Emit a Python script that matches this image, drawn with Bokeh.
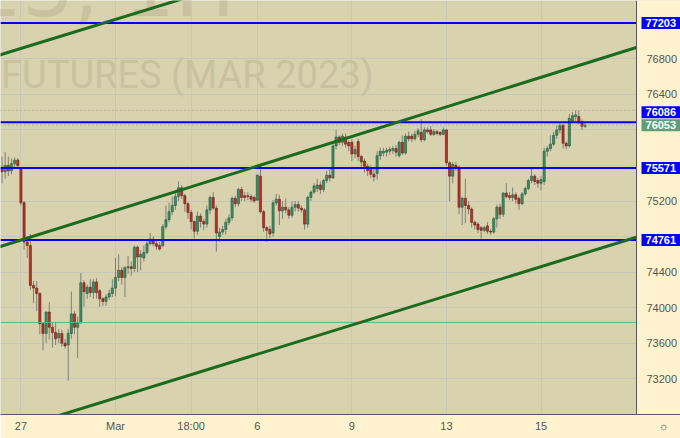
from bokeh.plotting import figure
from bokeh.models import (Range1d, FixedTicker, PrintfTickFormatter, Label, LinearAxis,
                          ColumnDataSource)
from bokeh.core.properties import value
from bokeh.embed import file_html
from bokeh.resources import INLINE

# ---------------- data (SiH2023, 1H) ----------------
opens = [75580, 75530, 75600, 75540, 75620, 75660,
         75560, 75180, 74740, 74700, 74250, 74220, 74160, 73820, 73710, 73950, 73780, 73720, 73660, 73710, 73600,
         73580, 73710, 73930, 73780, 73830, 74280, 74160, 74230, 74170, 74290, 74190, 74100, 74070, 74120, 74160,
         74220, 74340, 74420, 74340, 74450, 74460, 74440, 74680, 74570, 74560, 74620, 74720, 74770, 74720, 74700,
         74700, 74910, 74990, 75080, 75150, 75250, 75350, 75260, 75170, 75070, 74970, 74860, 75030, 74970, 74940,
         75100, 75240, 75120, 74800, 74850, 74880, 74960, 75010, 75230, 75170, 75330, 75260, 75260, 75250, 75240,
         75210, 75480, 75080, 74900, 74880, 74840, 75180, 75220, 75090, 75130, 75100, 75040, 75130, 75160, 75120,
         75100, 74940, 75240, 75300, 75340, 75380, 75330, 75430, 75490, 75460, 75820, 75920, 75860, 75920, 75860,
         75860, 75730, 75870, 75700, 75650, 75590, 75570, 75500, 75510, 75710, 75740, 75750, 75760, 75770, 75790,
         75710, 75860, 75740, 75930, 75930, 75900, 75950, 75970, 75890, 76000, 76000, 75950, 75980, 75970, 75950,
         76000, 75630, 75480, 75600, 75580, 75130, 75230, 75150, 75110, 74960, 74940, 74900, 74870, 74920, 74860,
         74850, 75000, 75130, 75050, 75290, 75260, 75240, 75270, 75230, 75170, 75280, 75340, 75430, 75480, 75430,
         75400, 75420, 75760, 75790, 75840, 75940, 76000, 76050, 75850, 75820, 76100, 76150, 76150, 76090, 76040]
highs = [75700, 75750, 75700, 75680, 75690, 75680,
         75580, 75200, 74800, 74830, 74300, 74300, 74170, 73830, 73960, 74060, 73830, 73830, 73760, 73750, 73650,
         73760, 74180, 73960, 73900, 74390, 74310, 74260, 74320, 74320, 74330, 74210, 74120, 74150, 74200, 74320,
         74560, 74600, 74460, 74470, 74580, 74520, 74700, 74700, 74650, 74700, 74750, 74840, 74800, 74760, 74740,
         74940, 75150, 75180, 75250, 75300, 75420, 75380, 75280, 75190, 75100, 74980, 75080, 75060, 75000, 75150,
         75260, 75300, 75150, 74900, 74920, 75000, 75050, 75250, 75260, 75350, 75360, 75300, 75300, 75280, 75260,
         75500, 75610, 75100, 74920, 74920, 75210, 75280, 75270, 75200, 75230, 75130, 75200, 75200, 75200, 75150,
         75120, 75260, 75320, 75400, 75450, 75420, 75450, 75540, 75560, 75840, 76000, 75940, 75960, 75960, 75880,
         75900, 75820, 75900, 75720, 75680, 75620, 75600, 75560, 75760, 75800, 75800, 75800, 75810, 75820, 75830,
         75880, 75940, 75960, 75980, 75960, 75990, 76020, 76120, 76030, 76030, 76040, 76010, 76000, 75990, 76030,
         76010, 75650, 75640, 75640, 75600, 75250, 75450, 75200, 75130, 74980, 74960, 74920, 74920, 74960, 74880,
         75020, 75160, 75170, 75300, 75400, 75300, 75350, 75300, 75250, 75300, 75360, 75450, 75570, 75500, 75460,
         75480, 75800, 75820, 75940, 75980, 76050, 76090, 76070, 75870, 76180, 76200, 76220, 76220, 76120, 76080]
lows = [75400, 75450, 75480, 75500, 75560, 75560,
        75150, 74650, 74560, 74200, 74050, 73960, 73700, 73520, 73600, 73640, 73550, 73580, 73600, 73560, 73540,
        73180, 73650, 73700, 73430, 73820, 74010, 74100, 74120, 74100, 74100, 74010, 74020, 74020, 74090, 74120,
        74130, 74300, 74260, 74120, 74380, 74360, 74400, 74400, 74420, 74520, 74600, 74700, 74690, 74650, 74640,
        74680, 74880, 74960, 75040, 75100, 75200, 75220, 75080, 75000, 74880, 74780, 74820, 74900, 74870, 74900,
        75050, 75100, 74630, 74740, 74820, 74820, 74930, 74980, 75130, 75140, 75200, 75200, 75210, 75190, 75180,
        75200, 75060, 74850, 74740, 74780, 74800, 75150, 74930, 75000, 75060, 75000, 75010, 75080, 75080, 75070,
        74880, 74900, 75200, 75280, 75300, 75280, 75300, 75400, 75420, 75450, 75780, 75830, 75820, 75800, 75760,
        75650, 75680, 75650, 75560, 75520, 75480, 75460, 75420, 75440, 75660, 75700, 75700, 75720, 75730, 75700,
        75690, 75720, 75720, 75870, 75860, 75880, 75920, 75860, 75870, 75960, 75930, 75930, 75940, 75930, 75940,
        75600, 75200, 75400, 75540, 75050, 74930, 74950, 75050, 74900, 74880, 74840, 74780, 74850, 74830, 74820,
        74830, 74900, 75000, 75020, 75230, 75210, 75200, 75170, 75100, 75150, 75260, 75320, 75400, 75380, 75350,
        75320, 75380, 75700, 75760, 75820, 75900, 75960, 75790, 75780, 75800, 76080, 76100, 76060, 76000, 76020]
closes = [75530, 75600, 75540, 75620, 75660, 75600,
          75180, 74740, 74700, 74250, 74220, 74160, 73820, 73710, 73950, 73780, 73720, 73650, 73710, 73600, 73570,
          73710, 73930, 73780, 73830, 74280, 74180, 74230, 74170, 74290, 74170, 74100, 74070, 74120, 74160, 74220,
          74340, 74420, 74340, 74450, 74460, 74440, 74680, 74570, 74600, 74620, 74720, 74770, 74720, 74690, 74660,
          74910, 74990, 75080, 75150, 75250, 75350, 75260, 75170, 75070, 74970, 74860, 75030, 74970, 74940, 75100,
          75240, 75120, 74840, 74850, 74880, 74960, 75010, 75230, 75170, 75330, 75240, 75240, 75250, 75220, 75200,
          75490, 75080, 74900, 74870, 74830, 75180, 75220, 75090, 75130, 75100, 75040, 75130, 75160, 75120, 75100,
          74940, 75240, 75300, 75370, 75380, 75330, 75430, 75490, 75460, 75820, 75920, 75860, 75930, 75840, 75820,
          75730, 75780, 75700, 75640, 75590, 75540, 75500, 75470, 75710, 75760, 75760, 75770, 75780, 75790, 75750,
          75860, 75740, 75930, 75900, 75900, 75950, 75990, 75890, 76000, 75980, 75950, 75980, 75960, 75950, 76000,
          75630, 75480, 75610, 75580, 75130, 75230, 75150, 75110, 74960, 74930, 74880, 74870, 74900, 74860, 74850,
          75000, 75130, 75050, 75290, 75250, 75240, 75270, 75220, 75170, 75280, 75340, 75430, 75480, 75420, 75400,
          75440, 75760, 75790, 75840, 75940, 76000, 76050, 75850, 75820, 76130, 76160, 76170, 76090, 76040, 76053]

# horizontal levels drawn by the author
levels = [77203, 76086, 75571, 74761]
level_labels = ["77203", "76086", "75571", "74761"]
thin_level = 73834
# channel lines: (bar index, price) anchors
channel_x = [[-1, 200], [-1, 202], [-1, 202]]
channel_y = [[76840, 79030], [74683, 76936], [72578, 74801]]

# axes
x_tick_idx = [6, 36, 60, 81, 111, 141, 171]
x_tick_labels = ["27", "Mar", "18:00", "6", "9", "13", "15"]
y_ticks = [73200, 73600, 74000, 74400, 74800, 75200, 75600, 76000, 76400, 76800, 77200]
y_hidden = [74800, 75600, 76000, 77200]     # covered by the price tags

# ---------------- figure ----------------
n = len(closes)
idx = list(range(n))
PX_PER_BAR = 3.152
XMIN = -0.48
XEDGE = 201.3                       # price-scale edge (636 px)
XMAX = XMIN + 680 / PX_PER_BAR      # full canvas width
YMIN, YMAX = 72798, 77456
BG = "#d8d3ae"
PANEL = "#fff3cf"

p = figure(width=680, height=438, x_range=Range1d(XMIN, XMAX), y_range=Range1d(YMIN, YMAX),
           output_backend="svg", toolbar_location=None, y_axis_location=None,
           min_border_left=0, min_border_top=0, min_border_right=0, min_border_bottom=24)
p.background_fill_color = BG
p.border_fill_color = PANEL
p.outline_line_color = None

# grids
p.xgrid.ticker = FixedTicker(ticks=x_tick_idx)
p.ygrid.ticker = FixedTicker(ticks=y_ticks)
p.grid.grid_line_color = "#c8c7b9"
p.grid.grid_line_width = 1

# x axis (with the settings glyph at the right end)
gear_x = XEDGE + 27 / PX_PER_BAR
p.xaxis.ticker = FixedTicker(ticks=x_tick_idx + [gear_x])
overrides = {k: v for k, v in zip(x_tick_idx, x_tick_labels)}
overrides[gear_x] = "\u263c"
p.xaxis.major_label_overrides = overrides
p.xaxis.axis_line_color = "#5a5a5a"
p.xaxis.major_tick_line_color = None
p.xaxis.minor_tick_line_color = None
p.xaxis.major_tick_out = 0
p.xaxis.major_tick_in = 0
p.xaxis.major_label_text_color = "#555555"
p.xaxis.major_label_text_font = "Liberation Sans"
p.xaxis.major_label_text_font_size = "11px"
p.xaxis.major_label_standoff = 5

# watermark
p.text(x=[-9.7], y=[77591], text=["23, 1H"], text_font=value("DejaVu Sans"), text_font_size="80px",
       text_color="#c8c2a1", text_baseline="alphabetic", text_align="left")
p.text(x=[-0.3], y=[76623], text=["FUTURES (MAR 2023)"], text_font=value("Roboto"), text_font_size="38px",
       text_color="#c8c2a1", text_baseline="alphabetic", text_align="left")

# candles
inc = [i for i in idx if closes[i] >= opens[i]]
dec = [i for i in idx if closes[i] < opens[i]]
p.segment(x0=idx, y0=lows, x1=idx, y1=highs, line_color="#7f7f78", line_width=1)
src_inc = ColumnDataSource(dict(x=inc, top=[closes[i] for i in inc], bottom=[opens[i] for i in inc]))
src_dec = ColumnDataSource(dict(x=dec, top=[opens[i] for i in dec], bottom=[closes[i] for i in dec]))
p.vbar(x="x", top="top", bottom="bottom", width=0.68, source=src_inc,
       fill_color="#3f8d66", line_color="#1f5a3c", line_width=0.6)
p.vbar(x="x", top="top", bottom="bottom", width=0.68, source=src_dec,
       fill_color="#b3332a", line_color="#6d1c15", line_width=0.6)

# price reference lines (stop at the price scale)
p.segment(x0=[XMIN, XMIN], x1=[XEDGE, XEDGE], y0=[max(highs), closes[-1]], y1=[max(highs), closes[-1]],
          line_color="#9c9a88", line_dash="1 3", line_width=1)
p.segment(x0=[XMIN], x1=[XEDGE], y0=[thin_level], y1=[thin_level], line_color="#52b98a", line_width=1)
p.segment(x0=[XMIN] * len(levels), x1=[XEDGE] * len(levels), y0=levels, y1=levels,
          line_color="#0000ff", line_width=2)

for cx, cy in zip(channel_x, channel_y):
    p.line(cx, cy, line_color="#1b6a1f", line_width=3)

# price-scale panel
p.quad(left=[XEDGE], right=[XMAX + 5], bottom=[YMIN - 500], top=[YMAX + 500],
       fill_color=PANEL, line_color=None)

yaxis = LinearAxis(fixed_location=XEDGE, ticker=FixedTicker(ticks=y_ticks),
                   formatter=PrintfTickFormatter(format="%d"))
yaxis.major_label_overrides = {t: "" for t in y_hidden}
yaxis.axis_line_color = "#5a5a5a"
yaxis.major_tick_line_color = None
yaxis.minor_tick_line_color = None
yaxis.major_tick_out = 0
yaxis.major_tick_in = 0
yaxis.major_label_text_color = "#555555"
yaxis.major_label_text_font = "Liberation Sans"
yaxis.major_label_text_font_size = "11px"
yaxis.major_label_standoff = 10
p.add_layout(yaxis, "right")


def make_label(**kw):
    try:
        return Label(padding=dict(x=4, y=2), **kw)
    except Exception:
        return Label(padding=2, **kw)


# price labels on the scale
offsets = {"76086": 10}
for lv, txt in zip(levels, level_labels):
    p.add_layout(make_label(x=XEDGE, y=lv, text=txt, text_color="white", text_font="Liberation Sans",
                            text_font_style="bold", text_font_size="11px", text_baseline="middle",
                            text_align="left", x_offset=5, y_offset=offsets.get(txt, 0),
                            background_fill_color="#0000ff"))
p.add_layout(make_label(x=XEDGE, y=closes[-1], text=str(closes[-1]), text_color="white",
                        text_font="Liberation Sans", text_font_style="bold", text_font_size="11px",
                        text_baseline="middle", text_align="left", x_offset=5,
                        background_fill_color="#5e9f79"))

open("out.html", "w").write(file_html(p, INLINE))
